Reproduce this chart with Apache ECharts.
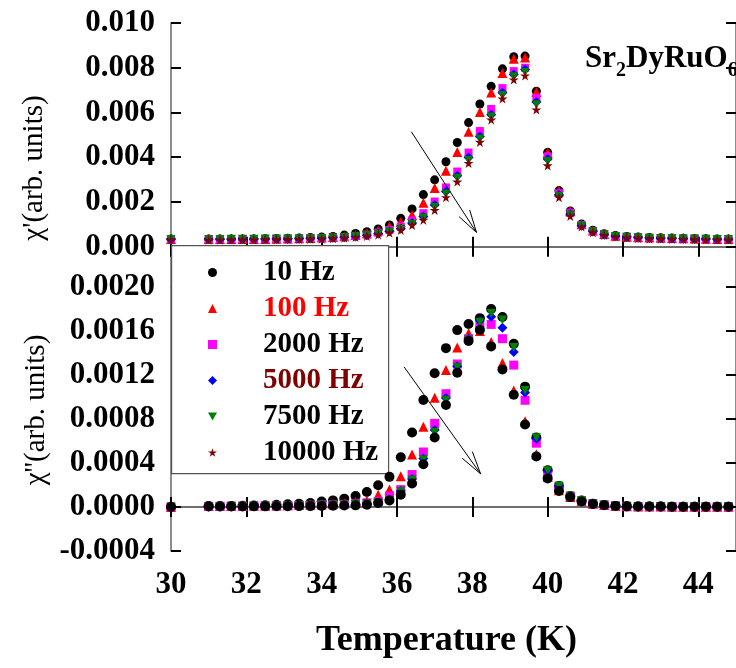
<!DOCTYPE html>
<html><head><meta charset="utf-8">
<script src="https://cdn.jsdelivr.net/npm/echarts@6/dist/echarts.min.js"></script>
<style>html,body{margin:0;padding:0;background:#fff}#c{width:736px;height:668px}</style>
</head><body><div id="c"></div>
<script>
// ---------- data ----------
const temperature = [30.0, 31.0, 31.3, 31.6, 31.9, 32.2, 32.5, 32.8, 33.1, 33.4, 33.7, 34.0, 34.3, 34.6, 34.9, 35.2, 35.5, 35.8, 36.1, 36.4, 36.7, 37.0, 37.3, 37.6, 37.9, 38.2, 38.5, 38.8, 39.1, 39.4, 39.7, 40.0, 40.3, 40.6, 40.9, 41.2, 41.5, 41.8, 42.1, 42.4, 42.7, 43.0, 43.3, 43.6, 43.9, 44.2, 44.5, 44.8];
const seriesNames = ['10 Hz', '100 Hz', '2000 Hz', '5000 Hz', '7500 Hz', '10000 Hz'];

// chi' (top panel)
const chiRe_10 = [0.00034, 0.00034, 0.00034, 0.00035, 0.00035, 0.00035, 0.00036, 0.00037, 0.00038, 0.00039, 0.00041, 0.00043, 0.00046, 0.00052, 0.00059, 0.00067, 0.00079, 0.00097, 0.00127, 0.00169, 0.00233, 0.00299, 0.0038, 0.00466, 0.00555, 0.00638, 0.00717, 0.00795, 0.00849, 0.00852, 0.00695, 0.00422, 0.00251, 0.0016, 0.00102, 0.00074, 0.00058, 0.0005, 0.00046, 0.00043, 0.00041, 0.0004, 0.00039, 0.00038, 0.00037, 0.00036, 0.00035, 0.00034];
const chiRe_100 = [0.00034, 0.00034, 0.00034, 0.00034, 0.00035, 0.00035, 0.00035, 0.00036, 0.00037, 0.00038, 0.00039, 0.00041, 0.00043, 0.00047, 0.00052, 0.0006, 0.00073, 0.0009, 0.00111, 0.00142, 0.00197, 0.00262, 0.0034, 0.00423, 0.00514, 0.00602, 0.00689, 0.00776, 0.0084, 0.00846, 0.00692, 0.0042, 0.0025, 0.00159, 0.00101, 0.00073, 0.00057, 0.00049, 0.00045, 0.00042, 0.00041, 0.0004, 0.00039, 0.00038, 0.00037, 0.00036, 0.00035, 0.00034];
const chiRe_2000 = [0.00033, 0.00033, 0.00033, 0.00034, 0.00034, 0.00034, 0.00035, 0.00035, 0.00036, 0.00037, 0.00038, 0.00039, 0.00041, 0.00044, 0.00048, 0.00054, 0.00063, 0.00075, 0.0009, 0.00117, 0.0015, 0.00202, 0.00265, 0.00336, 0.00421, 0.00517, 0.00616, 0.00709, 0.00785, 0.008, 0.00665, 0.00404, 0.00239, 0.00152, 0.00097, 0.0007, 0.00055, 0.00048, 0.00044, 0.00041, 0.0004, 0.00039, 0.00038, 0.00037, 0.00036, 0.00035, 0.00034, 0.00033];
const chiRe_5000 = [0.00033, 0.00033, 0.00033, 0.00033, 0.00034, 0.00034, 0.00034, 0.00035, 0.00035, 0.00036, 0.00037, 0.00038, 0.0004, 0.00042, 0.00046, 0.00051, 0.00059, 0.00069, 0.00082, 0.00106, 0.00135, 0.00187, 0.00247, 0.00317, 0.00399, 0.00493, 0.0059, 0.00688, 0.0077, 0.00792, 0.00647, 0.00392, 0.00232, 0.00146, 0.00094, 0.00068, 0.00054, 0.00047, 0.00043, 0.00041, 0.00039, 0.00038, 0.00037, 0.00036, 0.00035, 0.00034, 0.00033, 0.00033];
const chiRe_7500 = [0.00032, 0.00032, 0.00032, 0.00033, 0.00033, 0.00033, 0.00034, 0.00034, 0.00035, 0.00035, 0.00036, 0.00037, 0.00039, 0.00041, 0.00045, 0.0005, 0.00057, 0.00066, 0.00078, 0.001, 0.00128, 0.00176, 0.00236, 0.00306, 0.00386, 0.00481, 0.0058, 0.00676, 0.0076, 0.0078, 0.00635, 0.00381, 0.00226, 0.00142, 0.00092, 0.00067, 0.00053, 0.00046, 0.00042, 0.0004, 0.00038, 0.00037, 0.00036, 0.00035, 0.00034, 0.00033, 0.00032, 0.00032];
const chiRe_10000 = [0.00032, 0.00031, 0.00031, 0.00032, 0.00032, 0.00032, 0.00033, 0.00033, 0.00034, 0.00034, 0.00035, 0.00036, 0.00038, 0.0004, 0.00043, 0.00048, 0.00054, 0.00063, 0.00075, 0.00097, 0.0012, 0.00164, 0.00221, 0.00291, 0.00374, 0.00468, 0.00568, 0.00662, 0.00747, 0.00765, 0.00613, 0.00363, 0.00221, 0.00137, 0.0009, 0.00065, 0.00052, 0.00045, 0.00041, 0.00039, 0.00037, 0.00036, 0.00035, 0.00034, 0.00033, 0.00032, 0.00032, 0.00031];

// chi'' (bottom panel)
const chiIm_10 = [0.0, 0.00001, 0.00001, 0.00001, 0.000012, 0.000014, 0.000016, 0.00002, 0.000024, 0.00003, 0.000036, 0.00005, 0.00006, 0.000076, 0.0001, 0.000137, 0.000198, 0.000274, 0.000453, 0.000678, 0.000973, 0.001216, 0.001444, 0.001608, 0.001663, 0.001717, 0.0018, 0.001727, 0.001483, 0.001094, 0.000632, 0.000334, 0.000192, 0.0001, 0.00006, 0.00003, 0.000018, 0.00001, 0.000006, 0.000005, 0.000004, 0.000004, 0.000003, 0.000003, 0.000003, 0.000002, 0.000002, 0.000002];
const chiIm_100 = [0.0, 0.000008, 0.000008, 0.000009, 0.00001, 0.000011, 0.000012, 0.000014, 0.000016, 0.00002, 0.000022, 0.000026, 0.00003, 0.000035, 0.000045, 0.00006, 0.000112, 0.000158, 0.00028, 0.000477, 0.00073, 0.000994, 0.001246, 0.00145, 0.00158, 0.0016, 0.0015, 0.00131, 0.00106, 0.00078, 0.00048, 0.000274, 0.000152, 0.00009, 0.000055, 0.00003, 0.000018, 0.00001, 0.000006, 0.000005, 0.000004, 0.000004, 0.000003, 0.000003, 0.000003, 0.000002, 0.000002, 0.000002];
const chiIm_2000 = [0.0, 0.000006, 0.000006, 0.000007, 0.000008, 0.000009, 0.00001, 0.000011, 0.000012, 0.000014, 0.000016, 0.000018, 0.00002, 0.000024, 0.00003, 0.000038, 0.00005, 0.0001, 0.000158, 0.000295, 0.0005, 0.00076, 0.00103, 0.0013, 0.00153, 0.00164, 0.00166, 0.00153, 0.00129, 0.00097, 0.00058, 0.00029, 0.000167, 0.000095, 0.000055, 0.00003, 0.000018, 0.00001, 0.000006, 0.000005, 0.000004, 0.000004, 0.000003, 0.000003, 0.000003, 0.000002, 0.000002, 0.000002];
const chiIm_5000 = [0.0, 0.000005, 0.000005, 0.000006, 0.000007, 0.000008, 0.000009, 0.00001, 0.000011, 0.000012, 0.000014, 0.000016, 0.000018, 0.00002, 0.000025, 0.000032, 0.000042, 0.000065, 0.000146, 0.000255, 0.00044, 0.0007, 0.00099, 0.00128, 0.00153, 0.00169, 0.00173, 0.00163, 0.00141, 0.00104, 0.00062, 0.00033, 0.00019, 0.0001, 0.00006, 0.00003, 0.000018, 0.00001, 0.000006, 0.000005, 0.000004, 0.000004, 0.000003, 0.000003, 0.000003, 0.000002, 0.000002, 0.000002];
const chiIm_7500 = [0.0, 0.000005, 0.000005, 0.000006, 0.000007, 0.000008, 0.000009, 0.00001, 0.000011, 0.000012, 0.000013, 0.000015, 0.000017, 0.000019, 0.000024, 0.00003, 0.00004, 0.000062, 0.00014, 0.000245, 0.00043, 0.00068, 0.00097, 0.00127, 0.00152, 0.00168, 0.00176, 0.0017, 0.00145, 0.00106, 0.00063, 0.00033, 0.00019, 0.0001, 0.00006, 0.00003, 0.000018, 0.00001, 0.000006, 0.000005, 0.000004, 0.000004, 0.000003, 0.000003, 0.000003, 0.000002, 0.000002, 0.000002];
const chiIm_10000 = [0.0, 0.000004, 0.000004, 0.000005, 0.000005, 0.000006, 0.000006, 0.000007, 0.000007, 0.000008, 0.000008, 0.00001, 0.000012, 0.000014, 0.000015, 0.00002, 0.000036, 0.00006, 0.000112, 0.000213, 0.000389, 0.000632, 0.000927, 0.00122, 0.00151, 0.00161, 0.00146, 0.00125, 0.00102, 0.00075, 0.00046, 0.00026, 0.000146, 0.00009, 0.00005, 0.000028, 0.000016, 0.00001, 0.000006, 0.000005, 0.000004, 0.000004, 0.000003, 0.000003, 0.000003, 0.000002, 0.000002, 0.000002];

// tick values / labels
const tempTicks = [30, 32, 34, 36, 38, 40, 42, 44];
const chiReTicks = [0.000, 0.002, 0.004, 0.006, 0.008, 0.010];
const chiImTicks = [-0.0004, 0.0000, 0.0004, 0.0008, 0.0012, 0.0016, 0.0020];

// arrow annotations (data coordinates)
const arrowTop = [[36.38, 0.00514], [38.11, 0.00064]];
const arrowTopHead = [[37.65, 0.00134], [37.93, 0.00164]];
const arrowBot = [[36.19, 0.001273], [38.22, 0.000301]];
const arrowBotHead = [[37.73, 0.000444], [38.00, 0.000504]];

// ---------- styling ----------
const FONT = "'Liberation Serif', 'Times New Roman', serif";
const colors = ['#000000', '#ff0000', '#ff00ff', '#0000ff', '#008000', '#800000'];
const legendTextColors = ['#000000', '#ff0000', '#000000', '#800000', '#000000', '#000000'];
const STAR = 'path://M50,0 L61,35 L98,35 L68,57 L79,91 L50,70 L21,91 L32,57 L2,35 L39,35 Z';
const DOWNTRI = 'path://M0,0 L10,0 L5,9 Z';
const topSymbols = ['circle', 'triangle', 'rect', 'diamond', 'triangle', STAR];
const topRotate = [0, 0, 0, 0, 180, 0];
const topSizes = [9, 10, 8, 10, 9, 10];
const legendIcons = ['circle', 'triangle', 'rect', 'diamond', DOWNTRI, STAR];

const topData = [chiRe_10, chiRe_100, chiRe_2000, chiRe_5000, chiRe_7500, chiRe_10000];
const botData = [chiIm_10, chiIm_100, chiIm_2000, chiIm_5000, chiIm_7500, chiIm_10000];
const botSymbols = ['circle', 'triangle', 'rect', 'diamond', 'triangle', 'circle'];
const botColors = ['#000000', '#ff0000', '#ff00ff', '#0000ff', '#008000', '#000000'];
const botSizes = [10, 10, 9, 10, 9, 10];

function pairs(arr) { return temperature.map((t, i) => [t, arr[i]]); }
function seg(a, b) { return [{ coord: a }, { coord: b }]; }

const tickStyle = { show: true, inside: true, length: 10, lineStyle: { color: '#000', width: 2 } };
const lineStyle = { show: true, lineStyle: { color: '#666', width: 1.5 } };
const labelFont = { fontFamily: FONT, fontWeight: 'bold', fontSize: 31, color: '#000' };

const series = [];
topData.forEach((d, i) => {
  const s = {
    type: 'scatter', name: seriesNames[i], xAxisIndex: 0, yAxisIndex: 0,
    data: pairs(d), symbol: topSymbols[i], symbolSize: topSizes[i], symbolRotate: topRotate[i],
    itemStyle: { color: colors[i], opacity: 1 }, silent: true, clip: false, z: 2 + i
  };
  if (i === 0) {
    s.markLine = {
      silent: true, symbol: ['none', 'none'], label: { show: false },
      lineStyle: { color: '#000', width: 1, type: 'solid' }, animation: false,
      data: [seg(arrowTop[0], arrowTop[1]), seg(arrowTopHead[0], arrowTop[1]), seg(arrowTopHead[1], arrowTop[1])]
    };
  }
  series.push(s);
});
botData.forEach((d, i) => {
  const s = {
    type: 'scatter', name: seriesNames[i], xAxisIndex: 3, yAxisIndex: 2,
    data: pairs(d), symbol: botSymbols[i], symbolSize: botSizes[i], symbolRotate: topRotate[i],
    itemStyle: { color: botColors[i], opacity: 1 }, silent: true, clip: false, z: 2 + i
  };
  if (i === 0) {
    s.markLine = {
      silent: true, symbol: ['none', 'none'], label: { show: false },
      lineStyle: { color: '#000', width: 1, type: 'solid' }, animation: false,
      data: [seg(arrowBot[0], arrowBot[1]), seg(arrowBotHead[0], arrowBot[1]), seg(arrowBotHead[1], arrowBot[1])]
    };
  }
  series.push(s);
});

const xBase = { type: 'value', min: 30, max: 45, splitLine: { show: false } };
const option = {
  animation: false,
  backgroundColor: '#fff',
  grid: [
    { left: 171, top: 23, width: 567, height: 264 },
    { left: 171, top: 287, width: 567, height: 264 }
  ],
  xAxis: [
    Object.assign({}, xBase, { gridIndex: 0, position: 'bottom', axisLine: lineStyle,
      axisTick: Object.assign({}, tickStyle, { customValues: tempTicks }), axisLabel: { show: false } }),
    Object.assign({}, xBase, { gridIndex: 0, position: 'top', axisLine: lineStyle,
      axisTick: Object.assign({}, tickStyle, { customValues: tempTicks }), axisLabel: { show: false } }),
    Object.assign({}, xBase, { gridIndex: 1, position: 'top', axisLine: lineStyle,
      axisTick: Object.assign({}, tickStyle, { customValues: tempTicks }), axisLabel: { show: false } }),
    Object.assign({}, xBase, { gridIndex: 1, position: 'bottom', axisLine: lineStyle,
      axisTick: Object.assign({}, tickStyle, { customValues: tempTicks }),
      axisLabel: Object.assign({}, labelFont, { customValues: tempTicks, margin: 18 }),
      name: 'Temperature (K)', nameLocation: 'middle', nameGap: 72,
      nameTextStyle: { fontFamily: FONT, fontWeight: 'bold', fontSize: 36, color: '#000', padding: [0, 14, 0, 0] } })
  ],
  yAxis: [
    { type: 'value', gridIndex: 0, position: 'left', min: -0.0018, max: 0.010, splitLine: { show: false },
      axisLine: lineStyle, axisTick: Object.assign({}, tickStyle, { customValues: chiReTicks }),
      axisLabel: Object.assign({}, labelFont, { customValues: chiReTicks, margin: 16, formatter: v => v.toFixed(3) }) },
    { type: 'value', gridIndex: 0, position: 'right', min: -0.0018, max: 0.010, splitLine: { show: false },
      axisLine: lineStyle, axisTick: Object.assign({}, tickStyle, { customValues: chiReTicks }), axisLabel: { show: false } },
    { type: 'value', gridIndex: 1, position: 'left', min: -0.0004, max: 0.0020, splitLine: { show: false },
      axisLine: lineStyle, axisTick: Object.assign({}, tickStyle, { customValues: chiImTicks }),
      axisLabel: Object.assign({}, labelFont, { customValues: chiImTicks, margin: 16, formatter: v => v.toFixed(4) }) },
    { type: 'value', gridIndex: 1, position: 'right', min: -0.0004, max: 0.0020, splitLine: { show: false },
      axisLine: lineStyle, axisTick: Object.assign({}, tickStyle, { customValues: chiImTicks }), axisLabel: { show: false } }
  ],
  legend: {
    orient: 'vertical', left: 208, top: 258, padding: 0, z: 20,
    itemWidth: 9, itemHeight: 9, itemGap: 7, selectedMode: false,
    formatter: n => '{g|}' + n,
    textStyle: { fontFamily: FONT, fontWeight: 'bold', fontSize: 29, lineHeight: 28, rich: { g: { width: 41 } } },
    data: seriesNames.map((n, i) => ({ name: n, icon: legendIcons[i], itemStyle: { color: colors[i] }, textStyle: { color: legendTextColors[i] } }))
  },
  graphic: [
    { type: 'rect', left: 171, top: 245, shape: { width: 217, height: 228 }, z: 1,
      style: { fill: '#fff', stroke: '#555', lineWidth: 1.2 } },
    { type: 'text', x: 34, y: 168, rotation: Math.PI / 2, z: 60,
      style: { text: "\u03c7'(arb. units)", fontFamily: FONT, fontSize: 29, fill: '#000', align: 'center', verticalAlign: 'middle' } },
    { type: 'text', x: 36, y: 410, rotation: Math.PI / 2, z: 60,
      style: { text: "\u03c7''(arb. units)", fontFamily: FONT, fontSize: 29, fill: '#000', align: 'center', verticalAlign: 'middle' } },
    { type: 'text', x: 585, y: 43, z: 60,
      style: {
        text: '{a|Sr}{b|2}{a|DyRuO}{b|6}',
        rich: {
          a: { fontFamily: FONT, fontWeight: 'bold', fontSize: 31, fill: '#000', lineHeight: 32, verticalAlign: 'top' },
          b: { fontFamily: FONT, fontWeight: 'bold', fontSize: 20, fill: '#000', lineHeight: 20, verticalAlign: 'top', padding: [18, 0, 0, 0] }
        }
      } }
  ],
  series: series
};
const chart = echarts.init(document.getElementById('c'), null, { renderer: 'canvas' });
chart.setOption(option);
</script>
</body></html>
